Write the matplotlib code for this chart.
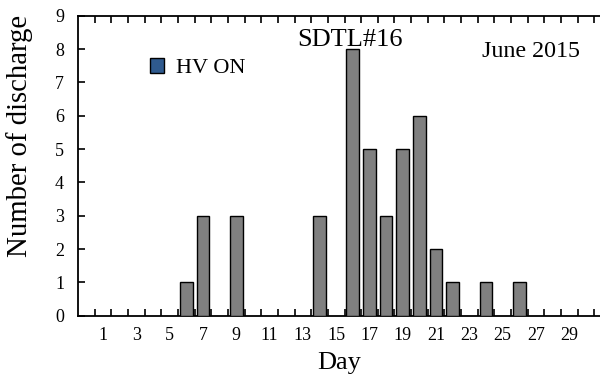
import matplotlib
matplotlib.use("Agg")
import matplotlib.pyplot as plt
from matplotlib.patches import Patch
import numpy as np

plt.rcParams['font.family'] = ['Liberation Serif', 'DejaVu Serif']

days = [6, 7, 9, 14, 16, 17, 18, 19, 20, 21, 22, 24, 26]
counts = [1, 3, 3, 3, 8, 5, 3, 5, 6, 2, 1, 1, 1]
xtick_labels = [str(d) for d in range(1, 30, 2)]
yticks = list(range(0, 10))
title = "SDTL#16"
period = "June 2015"
legend_label = "HV ON"
xlabel = "Day"
ylabel = "Number of discharge"

W, H = 600, 376
fig = plt.figure(figsize=(W / 100, H / 100), dpi=100)
ax = fig.add_axes([78 / W, 1 - 315.7 / H, (611 - 78) / W, 300 / H])

ax.bar(days, counts, width=0.76, color='#808080', edgecolor='black', linewidth=1.0, zorder=3)

ax.set_xlim(-0.5, 31.5)
ax.set_ylim(0, 9)

# tick marks at category boundaries, labels centered on odd days
ax.set_xticks(np.arange(0.5, 31, 1.0))
ax.set_xticklabels([])
ax.set_xticks(range(1, 30, 2), minor=True)
ax.set_xticklabels(xtick_labels, minor=True)
ax.tick_params(axis='x', which='major', direction='in', length=5, width=1.2, top=True, bottom=True)
ax.tick_params(axis='x', which='minor', length=0, pad=8, labelsize=13)
ax.set_yticks(yticks)
ax.tick_params(axis='y', direction='in', length=5, width=1.2, pad=10, labelsize=13)

for s in ['left', 'bottom', 'top']:
    ax.spines[s].set_linewidth(1.3)
ax.spines['right'].set_visible(False)

fig.text(350 / W, 1 - 46 / H, title, ha='center', va='baseline', fontsize=19)
fig.text(481.7 / W, 1 - 57 / H, period, ha='left', va='baseline', fontsize=17.3)
fig.text(20 / W, 1 - 136 / H, ylabel, rotation=90, ha='center', va='center', fontsize=20.7)
fig.text(339 / W, 1 - 369 / H, xlabel, ha='center', va='baseline', fontsize=19)

handle = Patch(facecolor='#2f5a8e', edgecolor='black', linewidth=1.0)
ax.legend([handle], [legend_label], loc='upper left', bbox_to_anchor=(150 / W, 1 - 58 / H),
          bbox_transform=fig.transFigure, frameon=False, fontsize=16,
          handlelength=0.65, handleheight=0.65, handletextpad=0.5,
          borderpad=0, borderaxespad=0)

fig.savefig("out.png", dpi=100)
